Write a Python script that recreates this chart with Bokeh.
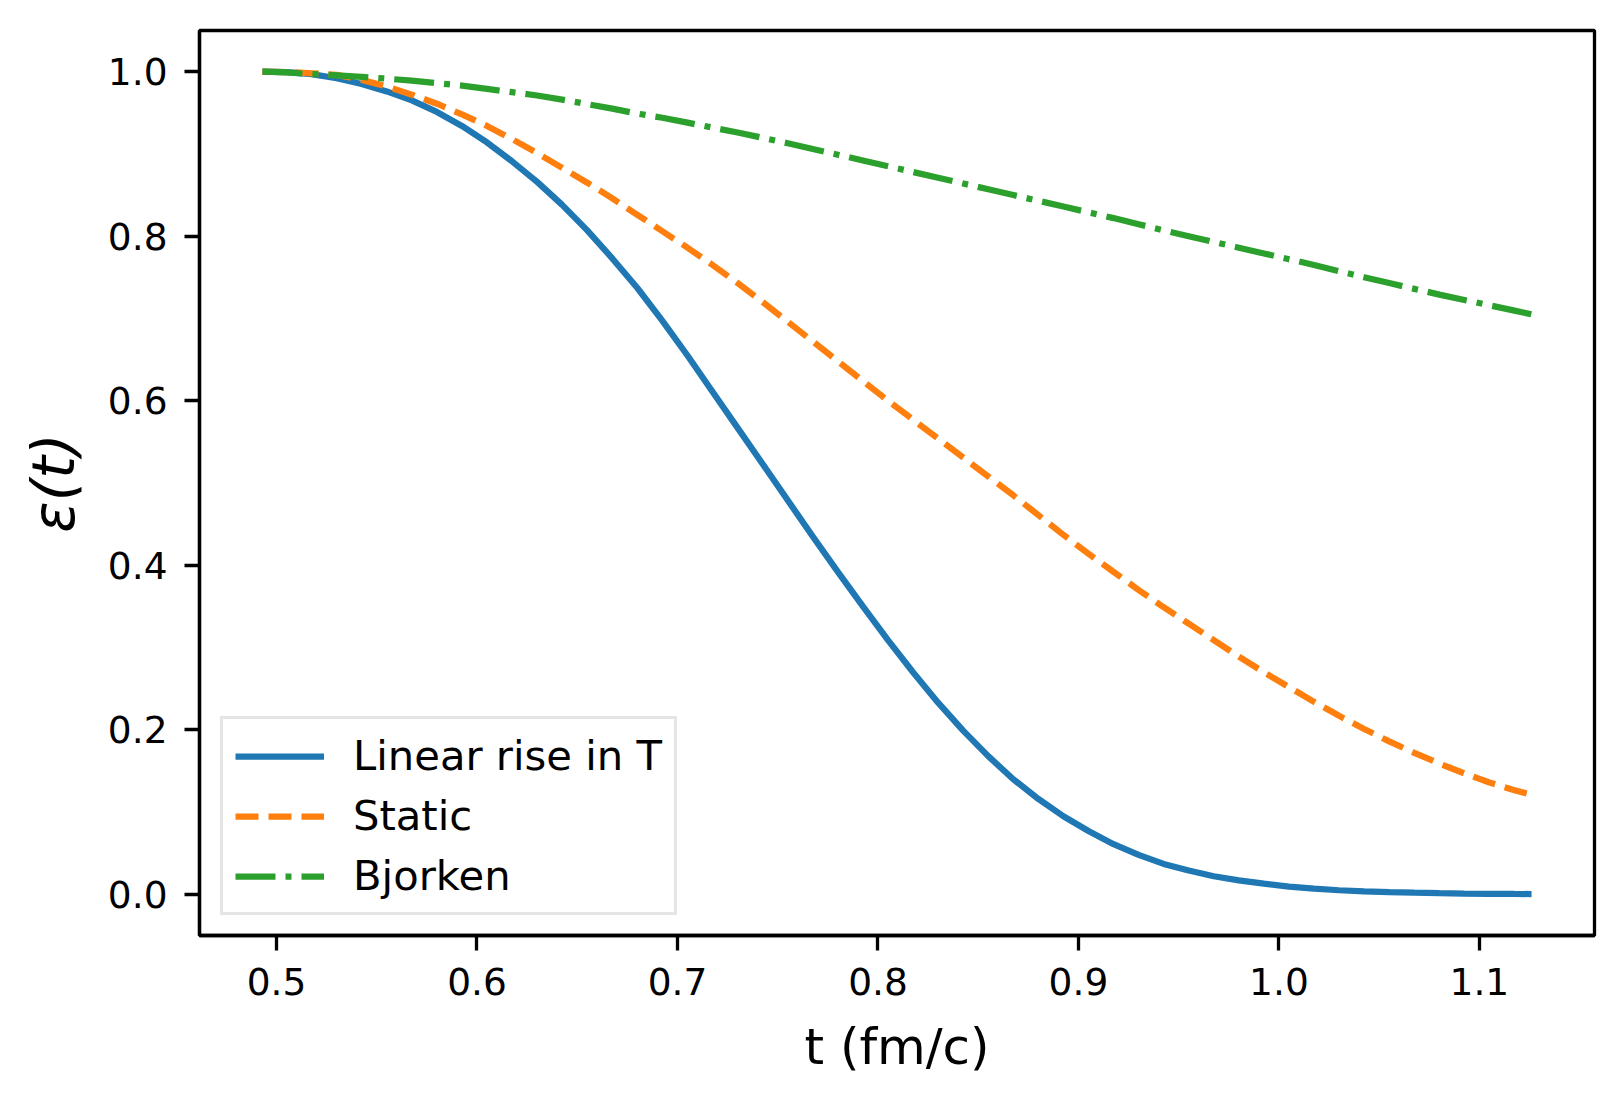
from bokeh.plotting import figure
from bokeh.models import Range1d, FixedTicker, PrintfTickFormatter, Legend, LegendItem
from bokeh.embed import file_html
from bokeh.resources import INLINE

# time grid (fm/c)
t = [0.493, 0.505, 0.5175, 0.530, 0.5425, 0.555, 0.5675, 0.580, 0.5925, 0.605,
     0.6175, 0.630, 0.6425, 0.655, 0.6675, 0.680, 0.6925, 0.705, 0.7175, 0.730,
     0.7425, 0.755, 0.7675, 0.780, 0.7925, 0.805, 0.8175, 0.830, 0.8425, 0.855,
     0.8675, 0.880, 0.8925, 0.905, 0.9175, 0.930, 0.9425, 0.955, 0.9675, 0.980,
     0.9925, 1.005, 1.0175, 1.030, 1.0425, 1.055, 1.0675, 1.080, 1.0925, 1.105,
     1.1175, 1.126]

linear_rise = [1.000, 0.9995, 0.997, 0.992, 0.985, 0.976, 0.965, 0.951, 0.934, 0.914,
               0.891, 0.866, 0.838, 0.807, 0.773, 0.737, 0.697, 0.655, 0.611, 0.567,
               0.523, 0.479, 0.435, 0.392, 0.350, 0.309, 0.270, 0.233, 0.199, 0.168,
               0.140, 0.116, 0.095, 0.077, 0.061, 0.048, 0.037, 0.029, 0.022, 0.017,
               0.013, 0.0095, 0.007, 0.005, 0.0037, 0.0027, 0.002, 0.0014, 0.001, 0.0007,
               0.0005, 0.0004]

static = [1.000, 0.9995, 0.998, 0.996, 0.990, 0.982, 0.972, 0.961, 0.948, 0.934,
          0.918, 0.901, 0.883, 0.865, 0.846, 0.826, 0.806, 0.786, 0.765, 0.743,
          0.720, 0.696, 0.672, 0.648, 0.624, 0.600, 0.577, 0.554, 0.531, 0.508,
          0.485, 0.461, 0.437, 0.414, 0.392, 0.370, 0.349, 0.329, 0.309, 0.289,
          0.270, 0.252, 0.234, 0.217, 0.201, 0.186, 0.172, 0.159, 0.147, 0.136,
          0.1265, 0.121]

bjorken = [1.000, 0.999, 0.997, 0.9955, 0.9935, 0.9915, 0.989, 0.986, 0.983, 0.979,
           0.975, 0.971, 0.966, 0.9605, 0.955, 0.949, 0.944, 0.938, 0.932, 0.926,
           0.9195, 0.913, 0.906, 0.899, 0.892, 0.885, 0.878, 0.871, 0.864, 0.857,
           0.850, 0.843, 0.836, 0.829, 0.822, 0.8145, 0.807, 0.800, 0.793, 0.786,
           0.779, 0.772, 0.765, 0.7575, 0.750, 0.743, 0.736, 0.729, 0.7225, 0.716,
           0.7095, 0.705]

labels = ["Linear rise in T", "Static", "Bjorken"]
colors = ["#1f77b4", "#ff7f0e", "#2ca02c"]
dashes = ["solid", "23 10", "40 10 6 10"]

x_ticks = [0.5, 0.6, 0.7, 0.8, 0.9, 1.0, 1.1]
y_ticks = [0.0, 0.2, 0.4, 0.6, 0.8, 1.0]

FONT = "DejaVu Sans"

p = figure(width=1616, height=1091, output_backend="svg", toolbar_location=None,
           x_range=Range1d(0.4616, 1.1574), y_range=Range1d(-0.05, 1.05),
           min_border_left=199, min_border_right=22, min_border_top=30,
           min_border_bottom=156)

p.xgrid.visible = False
p.ygrid.visible = False
p.outline_line_color = "black"
p.outline_line_width = 3.3
p.background_fill_color = "white"
p.border_fill_color = "white"

p.xaxis.ticker = FixedTicker(ticks=x_ticks)
p.yaxis.ticker = FixedTicker(ticks=y_ticks)
p.xaxis.formatter = PrintfTickFormatter(format="%.1f")
p.yaxis.formatter = PrintfTickFormatter(format="%.1f")

for ax in (p.xaxis[0], p.yaxis[0]):
    ax.axis_line_color = "black"
    ax.axis_line_width = 3.3
    ax.major_tick_line_width = 3.3
    ax.major_tick_out = 15
    ax.major_tick_in = 0
    ax.minor_tick_line_color = None
    ax.major_label_text_font = FONT
    ax.major_label_text_font_size = "37.5px"
    ax.major_label_text_color = "black"
    ax.axis_label_text_font = FONT
    ax.axis_label_text_font_style = "normal"
    ax.axis_label_text_color = "black"

p.xaxis.axis_label = "t (fm/c)"
p.xaxis.axis_label_text_font_size = "50px"
p.xaxis.major_label_standoff = 17
p.xaxis.axis_label_standoff = 20

p.yaxis.axis_label = "ε(t)"
p.yaxis.axis_label_text_font_size = "58px"
p.yaxis.axis_label_text_font_style = "italic"
p.yaxis.major_label_standoff = 17
p.yaxis.axis_label_standoff = 17

series = [linear_rise, static, bjorken]
items = []
for lab, ys, c, d in zip(labels, series, colors, dashes):
    r = p.line(t, ys, line_color=c, line_width=6.25, line_dash=d)
    items.append(LegendItem(label=lab, renderers=[r]))

legend = Legend(items=items, location=(21, 20), margin=0, padding=12,
                spacing=11, glyph_width=89, glyph_height=36, label_height=36,
                label_standoff=29,
                label_text_font=FONT, label_text_font_size="41.7px",
                label_text_color="black",
                border_line_color="#cccccc", border_line_width=3.3,
                background_fill_color="white", background_fill_alpha=0.8)
p.add_layout(legend, "center")

open("out.html", "w").write(file_html(p, INLINE))
